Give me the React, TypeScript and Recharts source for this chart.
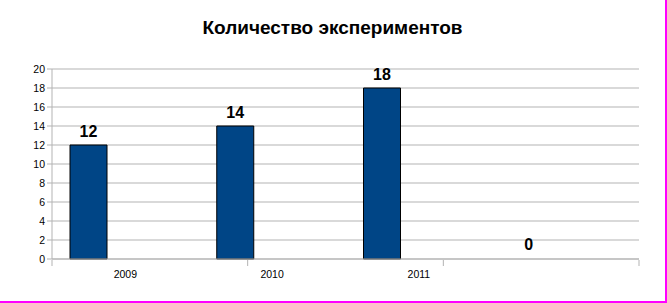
import { BarChart, Bar, XAxis, YAxis, CartesianGrid, LabelList, ReferenceLine, Cell } from "recharts";

const years = ["2009", "2010", "2011", ""];
const experiments = [12, 14, 18, 0];
const emptySeries = [null, null, null, null];
const yTicks = [0, 2, 4, 6, 8, 10, 12, 14, 16, 18, 20];
const boundaryTicks = [0, 1, 2, 3, 4];

const data = years.map((year, i) => ({
  year,
  count: experiments[i],
  s2: emptySeries[i],
  s3: emptySeries[i],
}));

const font = "'Liberation Sans', Arial, sans-serif";
const grid = "#b3b3b3";

export default function App() {
  return (
    <div
      style={{
        position: "absolute",
        left: 0,
        top: 0,
        width: 667,
        height: 303,
        background: "#fff",
        boxSizing: "border-box",
        borderRight: "2px solid #ff00ff",
        borderBottom: "2px solid #ff00ff",
        fontFamily: font,
      }}
    >
      <div
        style={{
          position: "absolute",
          left: 0,
          width: 665,
          top: 17,
          textAlign: "center",
          fontSize: 19,
          fontWeight: "bold",
          color: "#000",
        }}
      >
        Количество экспериментов
      </div>
      <div style={{ position: "absolute", left: 0, top: 0 }}>
        <BarChart
          width={667}
          height={303}
          data={data}
          margin={{ top: 69, right: 28, bottom: 42, left: 0 }}
          barCategoryGap={18}
          barGap={0}
        >
          <CartesianGrid xAxisId="cat" vertical={false} stroke={grid} strokeDasharray="" />
          <XAxis
            xAxisId="cat"
            dataKey="year"
            height={1}
            tickLine={false}
            tickSize={6}
            tickMargin={6}
            axisLine={{ stroke: grid }}
            tick={{ fill: "#000", fontSize: 10.5, fontFamily: font }}
          />
          <XAxis
            xAxisId="edge"
            type="number"
            domain={[0, 4]}
            ticks={boundaryTicks}
            height={1}
            axisLine={false}
            tickSize={6}
            tickLine={{ stroke: grid }}
            tickFormatter={() => ""}
          />
          <YAxis
            domain={[0, 20]}
            ticks={yTicks}
            width={52}
            tickSize={5}
            tickMargin={2}
            axisLine={{ stroke: grid }}
            tickLine={{ stroke: grid }}
            tick={{ fill: "#000", fontSize: 10.5, fontFamily: font }}
            interval={0}
          />
          <ReferenceLine xAxisId="edge" x={4} stroke={grid} />
          <Bar
            xAxisId="cat"
            dataKey="count"
            fill="#004586"
            stroke="#000"
            strokeWidth={1}
            minPointSize={1}
            isAnimationActive={false}
          >
            {experiments.map((v, i) => (
              <Cell key={i} fill={v === 0 ? "none" : "#004586"} stroke={v === 0 ? "none" : "#000"} />
            ))}
            <LabelList
              dataKey="count"
              position="top"
              offset={8}
              fill="#000"
              fontSize={16}
              fontWeight="bold"
              fontFamily={font}
            />
          </Bar>
          <Bar xAxisId="cat" dataKey="s2" fill="#ff420e" isAnimationActive={false} />
          <Bar xAxisId="cat" dataKey="s3" fill="#ffd320" isAnimationActive={false} />
        </BarChart>
      </div>
    </div>
  );
}
